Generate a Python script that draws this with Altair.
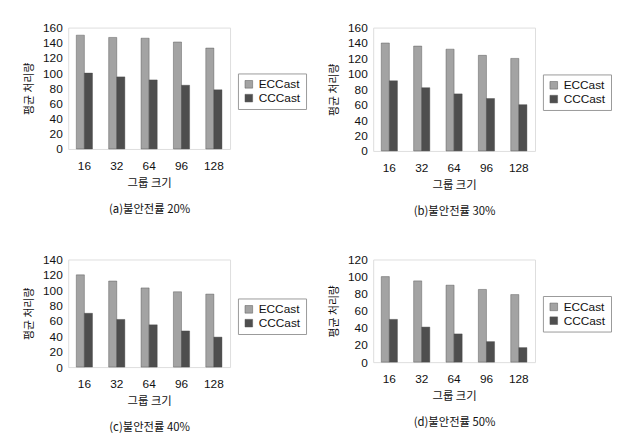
import altair as alt
import pandas as pd

groups = ["16", "32", "64", "96", "128"]
series = ["ECCast", "CCCast"]

ec_a = [150, 147, 146, 141, 133]
cc_a = [100, 95, 91, 84, 78]
ec_b = [140, 136, 132, 124, 120]
cc_b = [91, 82, 74, 68, 60]
ec_c = [120, 112, 103, 98, 95]
cc_c = [70, 62, 55, 47, 39]
ec_d = [100, 95, 90, 85, 79]
cc_d = [50, 41, 33, 24, 17]

captions = ["(a)불안전률 20%", "(b)불안전률 30%", "(c)불안전률 40%", "(d)불안전률 50%"]
ymax = [160, 160, 140, 120]
heights = [123, 125, 109, 104]

KFONT = "Noto Sans CJK KR"
NFONT = "Liberation Sans"


def panel(ec, cc, top, h, caption):
    rows = []
    for g, e, c in zip(groups, ec, cc):
        rows.append({"group": g, "series": "ECCast", "value": e})
        rows.append({"group": g, "series": "CCCast", "value": c})
    df = pd.DataFrame(rows)
    return (
        alt.Chart(df)
        .mark_bar(stroke="#444", strokeWidth=0.4)
        .encode(
            x=alt.X(
                "group:N",
                sort=groups,
                scale=alt.Scale(paddingInner=0.5, paddingOuter=0.25),
                axis=alt.Axis(
                    title=["그룹 크기", "\u200b", caption],
                    labelAngle=0,
                    labelPadding=12,
                    titlePadding=6,
                    titleLineHeight=13,
                    labelFont=NFONT,
                    labelFontSize=12,
                    titleFont=KFONT,
                    titleFontSize=11.5,
                    titleFontWeight="normal",
                    labelColor="#111",
                    titleColor="#111",
                    domain=False,
                    ticks=False,
                ),
            ),
            xOffset=alt.XOffset("series:N", sort=series),
            y=alt.Y(
                "value:Q",
                scale=alt.Scale(domain=[0, top], nice=False),
                axis=alt.Axis(
                    title="평균 처리량",
                    values=list(range(0, top + 1, 20)),
                    grid=False,
                    domain=False,
                    ticks=False,
                    labelPadding=6,
                    titlePadding=8,
                    labelFont=NFONT,
                    labelFontSize=12,
                    titleFont=KFONT,
                    titleFontSize=11,
                    titleFontWeight="normal",
                    labelColor="#111",
                    titleColor="#111",
                ),
            ),
            color=alt.Color(
                "series:N",
                sort=series,
                scale=alt.Scale(domain=series, range=["#a3a3a3", "#4e4e4e"]),
                legend=alt.Legend(
                    title=None,
                    orient="none",
                    legendX=172,
                    legendY=h / 2 - 15,
                    strokeColor="#999",
                    padding=5,
                    symbolType="square",
                    symbolSize=60,
                    symbolStrokeColor="#555",
                    symbolStrokeWidth=0.5,
                    labelFont=NFONT,
                    labelFontSize=12,
                    labelColor="#111",
                    rowPadding=2,
                ),
            ),
        )
        .properties(width=164, height=h)
    )


pa = panel(ec_a, cc_a, ymax[0], heights[0], captions[0])
pb = panel(ec_b, cc_b, ymax[1], heights[1], captions[1])
pc = panel(ec_c, cc_c, ymax[2], heights[2], captions[2])
pd_ = panel(ec_d, cc_d, ymax[3], heights[3], captions[3])

row1 = alt.hconcat(pa, pb, spacing=21).resolve_scale(color="independent").resolve_legend(color="independent")
row2 = alt.hconcat(pc, pd_, spacing=21).resolve_scale(color="independent").resolve_legend(color="independent")
chart = (
    alt.vconcat(row1, row2, spacing=36)
    .resolve_scale(color="independent")
    .resolve_legend(color="independent")
    .configure_view(stroke="#bbbbbb", strokeWidth=1)
    .configure(background="white", padding={"left": 15, "top": 10, "right": 0, "bottom": 0})
)

chart.save("out.html", embed_options={"renderer": "svg", "actions": False})
